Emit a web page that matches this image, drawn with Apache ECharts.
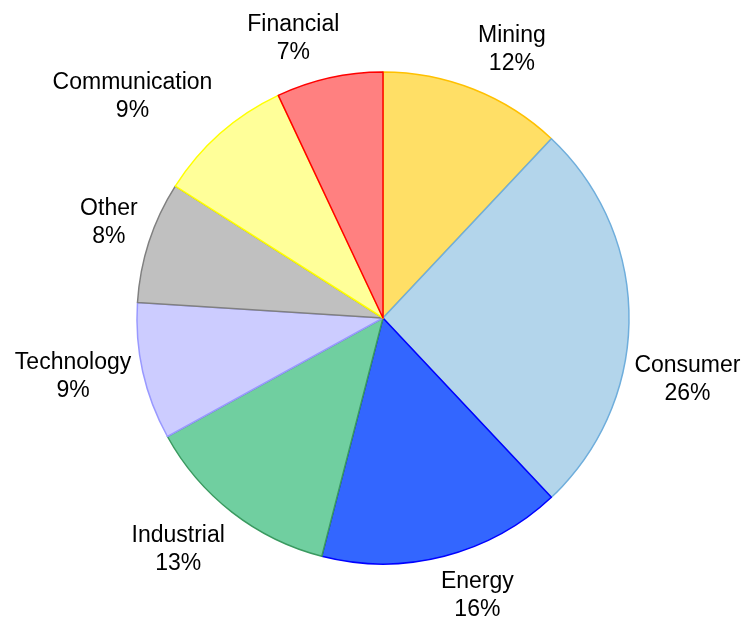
<!DOCTYPE html>
<html>
<head>
<meta charset="utf-8">
<script src="https://cdn.jsdelivr.net/npm/echarts@6/dist/echarts.min.js"></script>
<style>
  html, body { margin: 0; padding: 0; background: #fff; }
  #pieChart { width: 745px; height: 621px; }
</style>
</head>
<body>
<div id="pieChart"></div>
<script>
// sectors, clockwise from 12 o'clock
const categories = ['Mining', 'Consumer', 'Energy', 'Industrial', 'Technology', 'Other', 'Communication', 'Financial'];
const shares = [12, 26, 16, 13, 9, 8, 9, 7];
const fills = ['#FFDF66', '#B3D5EB', '#3366FF', '#70CFA0', '#CCCCFF', '#C0C0C0', '#FFFF99', '#FF8080'];
const borders = ['#FFC000', '#6FAEDC', '#0000FF', '#3A9A60', '#9999FF', '#808080', '#FFFF00', '#FF0000'];

const CX = 383, CY = 318, R = 246, GAP = 12;
const total = shares.reduce((a, b) => a + b, 0);

const clamp01 = (v) => Math.max(0, Math.min(1, v));

// anchor just outside the rim on the mid angle, box hangs off it
// toward the outside corner (Excel-like best fit)
function placeLabel(idx, w, h, chartW) {
  let before = 0;
  for (let k = 0; k < idx; k++) before += shares[k];
  let theta = (before + shares[idx] / 2) / total * 360;
  let pos;
  for (let step = 0; step < 60; step++) {
    const rad = theta * Math.PI / 180;
    const sx = Math.sin(rad), sy = -Math.cos(rad);
    const ax = CX + sx * (R + GAP), ay = CY + sy * (R + GAP);
    const fx = clamp01(Math.abs(sx) / 0.3), fy = clamp01((Math.abs(sy) - 0.2) / 0.2);
    pos = {
      x: ax + Math.sign(sx) * fx * w / 2,
      y: ay + Math.sign(sy) * fy * h / 2,
    };
    if (pos.x + w / 2 <= chartW - 4 && pos.x - w / 2 >= 4) break;
    // does not fit: slide along the rim
    if (theta < 180) theta += theta >= 90 ? 1 : -1;
    else theta += theta >= 270 ? 1 : -1;
  }
  return pos;
}

const chart = echarts.init(document.getElementById('pieChart'));

chart.setOption({
  backgroundColor: '#fff',
  animation: false,
  series: [
    {
      type: 'pie',
      center: [CX, CY],
      radius: R,
      startAngle: 90,
      clockwise: true,
      avoidLabelOverlap: false,
      data: categories.map((name, i) => ({
        name: name,
        value: shares[i],
        itemStyle: { color: fills[i], borderColor: borders[i], borderWidth: 1.5 },
      })),
      label: {
        show: true,
        position: 'outside',
        formatter: '{b}\n{c}%',
        fontFamily: 'Liberation Sans, Arial, sans-serif',
        fontSize: 23,
        lineHeight: 28,
        color: '#000',
        align: 'center',
      },
      labelLine: { show: false },
      labelLayout: (params) => {
        const rect = params.labelRect;
        const p = placeLabel(params.dataIndex, rect.width, rect.height, chart.getWidth());
        return { x: p.x, y: p.y, align: 'center', verticalAlign: 'middle' };
      },
      emphasis: { disabled: true },
    },
  ],
});
</script>
</body>
</html>
